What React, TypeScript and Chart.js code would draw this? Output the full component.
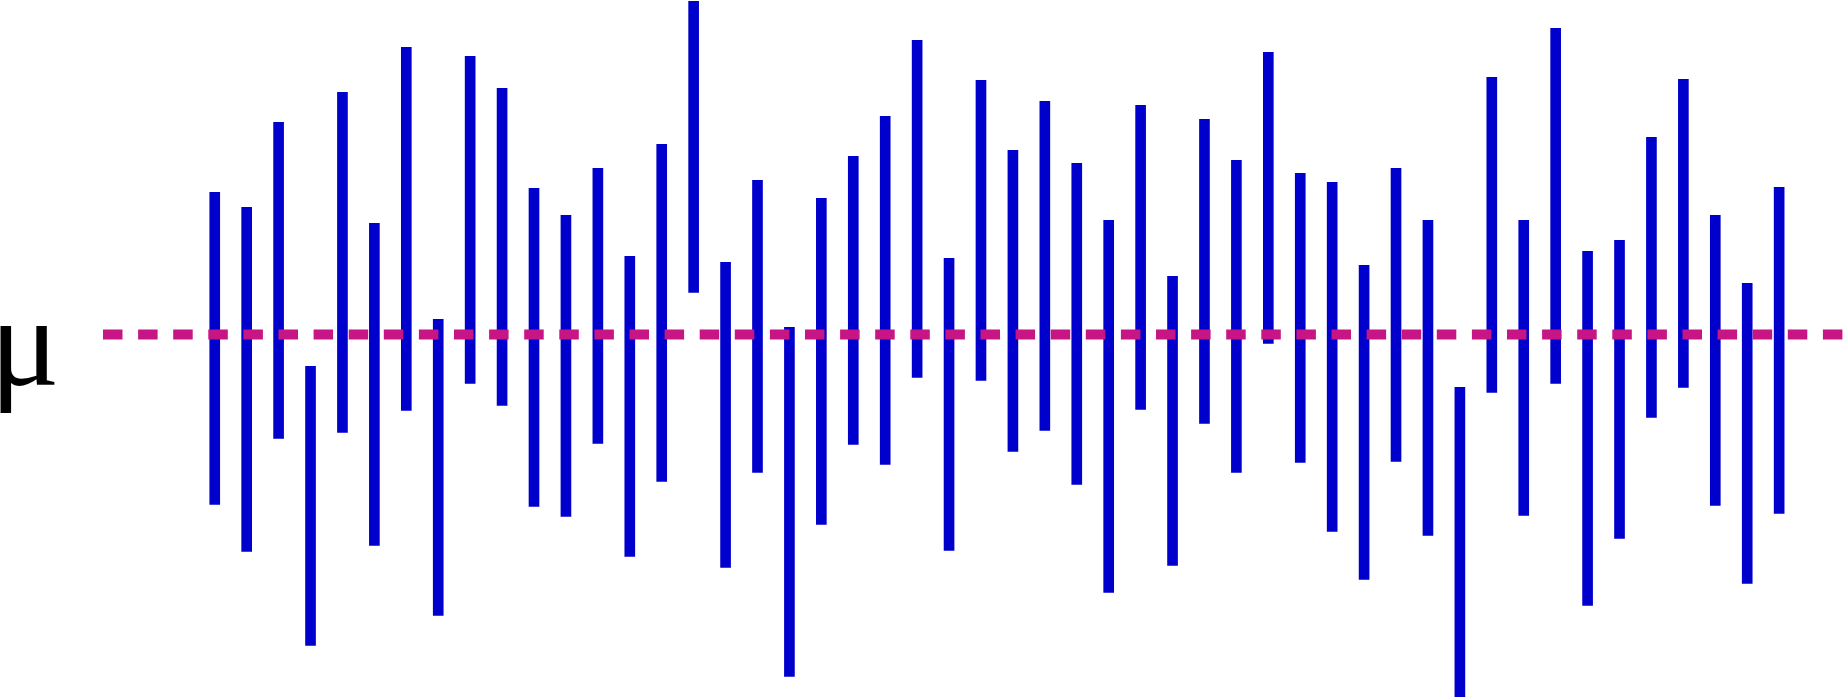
import { useEffect, useRef } from 'react'
import { Chart, registerables } from 'chart.js'

Chart.register(...registerables)

// sample index of each interval (1..50)
const samples = Array.from({ length: 50 }, (_, i) => i + 1)

// upper and lower ends of each interval, relative to mu = 0
const upper = [
  1.42, 1.27, 2.12, -0.32, 2.42, 1.11, 2.87, 0.15, 2.78, 2.46,
  1.46, 1.19, 1.66, 0.78, 1.9, 3.33, 0.72, 1.54, 0.07, 1.36,
  1.78, 2.18, 2.94, 0.76, 2.54, 1.84, 2.33, 1.71, 1.14, 2.29,
  0.58, 2.15, 1.74, 2.82, 1.61, 1.52, 0.69, 1.66, 1.14, -0.53,
  2.57, 1.14, 3.06, 0.83, 0.94, 1.97, 2.55, 1.19, 0.51, 1.47,
]
const lower = [
  -1.7, -2.17, -1.04, -3.11, -0.98, -2.11, -0.76, -2.81, -0.49, -0.71,
  -1.72, -1.82, -1.09, -2.22, -1.47, 0.42, -2.33, -1.38, -3.42, -1.9,
  -1.1, -1.3, -0.43, -2.16, -0.46, -1.17, -0.96, -1.5, -2.58, -0.75,
  -2.31, -0.89, -1.38, -0.09, -1.28, -1.97, -2.45, -1.27, -2.01, -3.63,
  -0.58, -1.81, -0.49, -2.71, -2.04, -0.83, -0.53, -1.71, -2.49, -1.79,
]

const mu = 0
const xMin = -2.5
const xMax = 52

// the "μ" label to the left of the dashed line
const muLabel = {
  id: 'muLabel',
  afterDraw(chart: Chart) {
    const ctx = chart.ctx
    const y = chart.scales.y.getPixelForValue(mu)
    ctx.save()
    ctx.font = '130px "Liberation Serif"'
    ctx.fillStyle = '#000'
    ctx.textAlign = 'left'
    ctx.textBaseline = 'alphabetic'
    const m = ctx.measureText('μ')
    ctx.fillText('μ', m.actualBoundingBoxLeft, y + 51)
    ctx.restore()
  },
}

export default function App() {
  const canvasRef = useRef<HTMLCanvasElement>(null)

  useEffect(() => {
    if (!canvasRef.current) return
    const chart = new Chart(canvasRef.current, {
      type: 'bar',
      data: {
        datasets: [
          {
            type: 'line',
            data: [
              { x: xMin, y: mu },
              { x: xMax, y: mu },
            ],
            borderColor: '#C71585',
            borderWidth: 10,
            borderDash: [19.5, 15.6],
            pointRadius: 0,
            order: 0,
          },
          {
            type: 'bar',
            data: samples.map((s, i) => ({ x: s, y: [lower[i], upper[i]] })),
            backgroundColor: '#0000CD',
            borderWidth: 0,
            barThickness: 10,
            order: 1,
          },
        ],
      },
      options: {
        animation: false,
        responsive: true,
        maintainAspectRatio: false,
        layout: { padding: { left: 103, right: 0, top: 0, bottom: 0 } },
        plugins: {
          legend: { display: false },
          tooltip: { enabled: false },
        },
        scales: {
          x: { type: 'linear', min: xMin, max: xMax, offset: false, display: false },
          y: { min: -3.626, max: 3.344, display: false },
        },
        events: [],
      },
      plugins: [muLabel],
    })
    return () => chart.destroy()
  }, [])

  return (
    <div style={{ position: 'absolute', left: 0, top: 0, width: 1843, height: 697, background: '#fff' }}>
      <canvas ref={canvasRef} />
    </div>
  )
}
